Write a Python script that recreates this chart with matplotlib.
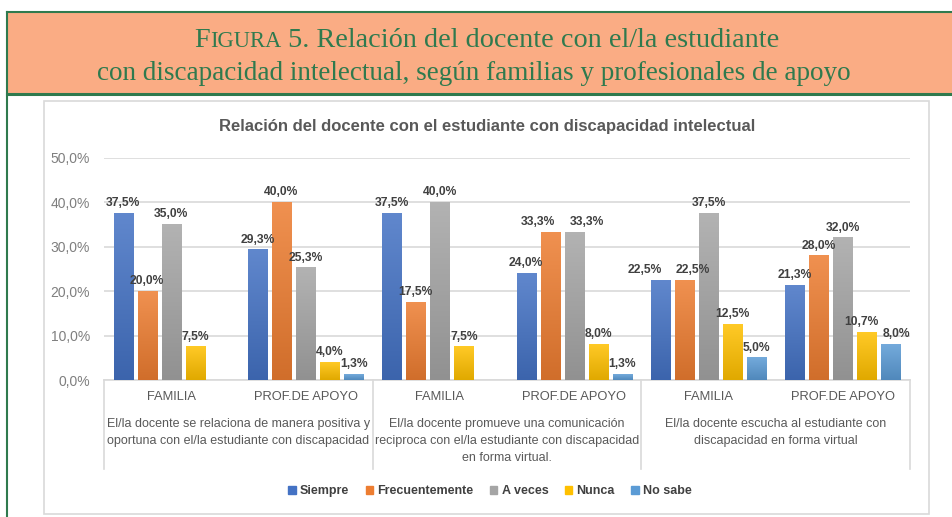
import numpy as np
import matplotlib
matplotlib.use('Agg')
from matplotlib import pyplot as plt
from matplotlib.colors import to_rgb, LinearSegmentedColormap
from matplotlib.patches import Rectangle
from matplotlib.lines import Line2D

# data
series = ['Siempre', 'Frecuentemente', 'A veces', 'Nunca', 'No sabe']
subcats = ['FAMILIA', 'PROF.DE APOYO'] * 3
groups = ['El/la docente se relaciona de manera positiva y\noportuna con el/la estudiante con discapacidad',
          'El/la docente promueve una comunicación\nreciproca con el/la estudiante con discapacidad\nen forma virtual.',
          'El/la docente escucha al estudiante con\ndiscapacidad en forma virtual']
siempre = [37.5, 29.3, 37.5, 24.0, 22.5, 21.3]
frecuente = [20.0, 40.0, 17.5, 33.3, 22.5, 28.0]
a_veces = [35.0, 25.3, 40.0, 33.3, 37.5, 32.0]
nunca = [7.5, 4.0, 7.5, 8.0, 12.5, 10.7]
no_sabe = [np.nan, 1.3, np.nan, 1.3, 5.0, 8.0]
colors = ['#4472C4', '#ED7D31', '#A5A5A5', '#FFC000', '#5B9BD5']

# label nudges (points) where neighbouring labels would collide: (series, category) -> dx
nudge = {(1, 3): -9, (2, 3): 9, (0, 4): -11, (1, 4): 6, (3, 5): -4, (4, 5): 4}

plt.rcParams['font.family'] = ['Liberation Sans', 'DejaVu Sans']

W, H = 953, 517
fig = plt.figure(figsize=(W / 100, H / 100), dpi=100)

def px(x, y):
    return x / W, 1 - y / H

# header band + frame
green = '#2F7A4E'
fig.patches.append(Rectangle(px(7, 94), (W - 7) / W, (94 - 12) / H, transform=fig.transFigure,
                             facecolor='#FAAC84', edgecolor='none', zorder=0))
fig.add_artist(Line2D([7 / W, 1], [1 - 12 / H] * 2, color=green, lw=1.5))
fig.add_artist(Line2D([7 / W, 1], [1 - 94 / H] * 2, color=green, lw=2.2))
fig.add_artist(Line2D([7 / W] * 2, [1 - 12 / H, 0], color=green, lw=1.5))
# chart box
fig.patches.append(Rectangle(px(44, 514), (929 - 44) / W, (514 - 101) / H, transform=fig.transFigure,
                             facecolor='white', edgecolor='#D9D9D9', lw=1.2, zorder=0))

# header title with small caps "Figura"
serif = ['Liberation Serif', 'DejaVu Serif']
hs = 19.5
h1 = 20.3
renderer = fig.canvas.get_renderer()
pieces = [('F', h1), ('IGURA', h1 * 0.8), (' 5. Relación del docente con el/la estudiante', h1)]
objs = []
for s, size in pieces:
    t = fig.text(0, 1 - 47 / H, s, fontsize=size, family=serif, color=green, va='baseline', ha='left')
    objs.append(t)
widths = [o.get_window_extent(renderer).width for o in objs]
x0 = 487 - sum(widths) / 2
for o, w in zip(objs, widths):
    o.set_x(x0 / W)
    x0 += w
fig.text(474 / W, 1 - 80 / H, 'con discapacidad intelectual, según familias y profesionales de apoyo',
         fontsize=hs, family=serif, color=green, va='baseline', ha='center')

# chart title
fig.text(487 / W, 1 - 127 / H, 'Relación del docente con el estudiante con discapacidad intelectual',
         fontsize=12, fontweight='bold', color='#595959', ha='center', va='center')

ax = fig.add_axes([104 / W, 1 - 380 / H, (910 - 104) / W, (380 - 158) / H])
ax.set_zorder(2)
ax.set_facecolor('none')
vals = [siempre, frecuente, a_veces, nunca, no_sabe]
x = np.arange(len(subcats)) + 0.5
pitch, bw = 0.179, 0.142

def shade(c, f):
    r = np.array(to_rgb(c))
    return tuple(r + (1 - r) * f) if f > 0 else tuple(r * (1 + f))

for i, (v, c) in enumerate(zip(vals, colors)):
    bars = ax.bar(x + (i - 2) * pitch, np.nan_to_num(v), width=bw, color=c, zorder=2)
    cmap = LinearSegmentedColormap.from_list('g', [shade(c, -0.12), shade(c, 0.15)])
    for j, (b, val) in enumerate(zip(bars, v)):
        if np.isnan(val):
            b.set_visible(False)
            continue
        ax.imshow(np.linspace(0, 1, 64).reshape(-1, 1), cmap=cmap, origin='lower', aspect='auto',
                  extent=[b.get_x(), b.get_x() + b.get_width(), 0, b.get_height()], zorder=3)
        ax.annotate(f'{val:.1f}%'.replace('.', ','), (b.get_x() + b.get_width() / 2, val),
                    xytext=(nudge.get((i, j), 0), 3), textcoords='offset points', ha='center',
                    va='bottom', fontsize=8.7, fontweight='bold', color='#404040', zorder=5)

ax.set_xlim(0, 6)
ax.set_ylim(0, 50)
ax.set_yticks(np.arange(0, 51, 10))
ax.set_yticklabels([f'{t:.1f}%'.replace('.', ',') for t in np.arange(0, 51, 10)])
ax.grid(axis='y', color='#D9D9D9', lw=1.2, zorder=0)
ax.set_axisbelow(True)
for s in ['top', 'right', 'left']:
    ax.spines[s].set_visible(False)
ax.spines['bottom'].set_color('#D9D9D9')
ax.spines['bottom'].set_linewidth(1.2)
ax.tick_params(axis='y', length=0, pad=10, labelsize=10, labelcolor='#7F7F7F')
ax.set_xticks(x)
ax.set_xticklabels(subcats)
ax.tick_params(axis='x', length=0, pad=8, labelsize=9.3, labelcolor='#595959')

ah = 380 - 158
for k in range(4):
    ax.plot([2 * k, 2 * k], [0, -(469 - 380) / ah], transform=ax.get_xaxis_transform(),
            color='#D9D9D9', lw=1.2, clip_on=False)
for k, g in enumerate(groups):
    ax.text(2 * k + 1, -(418 - 380) / ah, g, transform=ax.get_xaxis_transform(), ha='center',
            va='top', fontsize=9, color='#595959', linespacing=1.55, multialignment='center')

handles = [Rectangle((0, 0), 1, 1, color=c) for c in colors]
fig.legend(handles=handles, labels=series, loc='center', bbox_to_anchor=px(490, 491), ncol=5,
           frameon=False, handlelength=0.6, handleheight=0.6, handletextpad=0.35, columnspacing=1.3,
           prop={'size': 9, 'weight': 'bold'}, labelcolor='#404040')

fig.savefig('out.png', dpi=100)
